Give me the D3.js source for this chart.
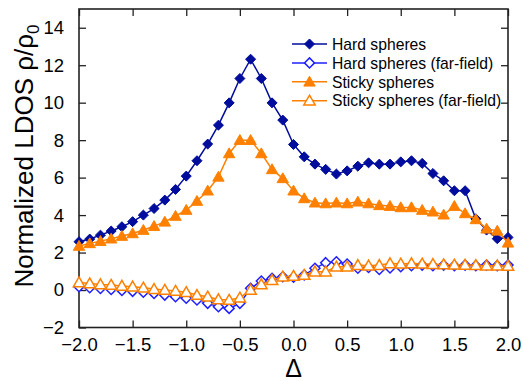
<!DOCTYPE html>
<html>
<head>
<meta charset="utf-8">
<script src="https://cdn.jsdelivr.net/npm/d3@7"></script>
<style>
  body { margin: 0; background: #fff; }
  text { font-family: Arial, "Liberation Sans", sans-serif; }
</style>
</head>
<body>
<script>
// detuning values, step 0.1
const delta = d3.range(41).map(i => +(-2 + i * 0.1).toFixed(1));

const hardSpheres = [
  2.58, 2.72, 2.93, 3.15, 3.38, 3.65, 4.0, 4.35, 4.8, 5.37,
  6.08, 6.9, 7.79, 8.8, 9.99, 11.29, 12.32, 11.29, 9.99, 9.07,
  7.77, 7.11, 6.72, 6.44, 6.19, 6.36, 6.61, 6.79, 6.72, 6.72,
  6.84, 6.9, 6.76, 6.22, 5.83, 5.3, 5.3, 3.8, 3.2, 2.74, 2.81
];
const hardFarField = [
  0.18, 0.12, 0.08, 0.03, -0.02, -0.07, -0.12, -0.18, -0.27, -0.36,
  -0.44, -0.53, -0.71, -0.89, -0.98, -0.71, 0.09, 0.48, 0.62, 0.71,
  0.68, 0.8, 1.16, 1.46, 1.51, 1.39, 1.16, 1.2, 1.1, 1.18,
  1.24, 1.3, 1.33, 1.3, 1.33, 1.3, 1.33, 1.3, 1.33, 1.3, 1.33
];
const stickySpheres = [
  2.35, 2.49, 2.61, 2.74, 2.88, 3.02, 3.2, 3.41, 3.64, 3.95,
  4.27, 4.75, 5.3, 6.04, 7.29, 8.0, 8.0, 7.29, 6.44, 5.96,
  5.3, 4.89, 4.66, 4.62, 4.66, 4.62, 4.71, 4.62, 4.52, 4.48,
  4.41, 4.41, 4.27, 4.18, 4.02, 4.48, 4.09, 3.77, 3.27, 3.16, 2.52
];
const stickyFarField = [
  0.4, 0.35, 0.3, 0.27, 0.22, 0.18, 0.12, 0.05, 0.0, -0.05,
  -0.12, -0.27, -0.36, -0.5, -0.53, -0.41, 0.0, 0.3, 0.53, 0.71,
  0.75, 0.8, 0.98, 0.98, 1.24, 1.24, 1.33, 1.3, 1.33, 1.42,
  1.4, 1.42, 1.4, 1.38, 1.36, 1.35, 1.34, 1.32, 1.3, 1.3, 1.28
];

const xTicks = [-2.0, -1.5, -1.0, -0.5, 0.0, 0.5, 1.0, 1.5, 2.0];
const yTicks = [-2, 0, 2, 4, 6, 8, 10, 12, 14];

const series = [
  { name: "Hard spheres", values: hardSpheres, color: "#000c9c", shape: "diamond", filled: true },
  { name: "Hard spheres (far-field)", values: hardFarField, color: "#1f1fff", shape: "diamond", filled: false },
  { name: "Sticky spheres", values: stickySpheres, color: "#ff8000", shape: "triangle", filled: true },
  { name: "Sticky spheres (far-field)", values: stickyFarField, color: "#ff8000", shape: "triangle", filled: false }
];

const width = 524, height = 381;
const marginLeft = 79, marginRight = 16, marginTop = 9, marginBottom = 53.5;
const plotW = width - marginLeft - marginRight;
const plotH = height - marginTop - marginBottom;

const svg = d3.select("body").append("svg")
  .attr("width", width)
  .attr("height", height);

const x = d3.scaleLinear().domain([-2, 2]).range([marginLeft, marginLeft + plotW]);
const y = d3.scaleLinear().domain([-2, 15]).range([marginTop + plotH, marginTop]);

const tickLen = 7;

// bottom axis, ticks inside
const gx = svg.append("g")
  .attr("transform", "translate(0," + (marginTop + plotH) + ")")
  .call(d3.axisBottom(x).tickValues(xTicks).tickFormat(d3.format(".1f")).tickSizeInner(-tickLen).tickSizeOuter(0).tickPadding(10));
gx.selectAll("text").attr("font-size", 18.5).attr("fill", "#000");

// top axis ticks
svg.append("g")
  .attr("transform", "translate(0," + marginTop + ")")
  .call(d3.axisTop(x).tickValues(xTicks).tickSizeInner(-tickLen).tickSizeOuter(0).tickFormat(""));

// left axis
const gy = svg.append("g")
  .attr("transform", "translate(" + marginLeft + ",0)")
  .call(d3.axisLeft(y).tickValues(yTicks).tickSizeInner(-tickLen).tickSizeOuter(0).tickPadding(15));
gy.selectAll("text").attr("font-size", 18.5).attr("fill", "#000");

// right axis ticks
svg.append("g")
  .attr("transform", "translate(" + (marginLeft + plotW) + ",0)")
  .call(d3.axisRight(y).tickValues(yTicks).tickSizeInner(-tickLen).tickSizeOuter(0).tickFormat(""));

svg.selectAll(".domain").remove();
svg.selectAll(".tick line").attr("stroke", "#222").attr("stroke-width", 1.3);

// frame
svg.append("rect")
  .attr("x", marginLeft)
  .attr("y", marginTop)
  .attr("width", plotW)
  .attr("height", plotH)
  .attr("fill", "none")
  .attr("stroke", "#222")
  .attr("stroke-width", 1.6);

const diamond = d3.symbol().type(d3.symbolDiamond2).size(64);
const triangle = d3.symbol().type(d3.symbolTriangle).size(56);

function markerPath(s) {
  return s.shape === "diamond" ? diamond() : triangle();
}

const line = d3.line()
  .x((d, i) => x(delta[i]))
  .y(d => y(d));

// far-field first (drawn beneath), then main curves
const drawOrder = [series[1], series[3], series[0], series[2]];
drawOrder.forEach(s => {
  const g = svg.append("g");
  g.append("path")
    .datum(s.values)
    .attr("fill", "none")
    .attr("stroke", s.color)
    .attr("stroke-width", 1.5)
    .attr("d", line);
  g.selectAll("path.m")
    .data(s.values)
    .join("path")
    .attr("class", "m")
    .attr("transform", (d, i) => "translate(" + x(delta[i]) + "," + (y(d) + (s.shape === "triangle" ? 1 : 0)) + ")")
    .attr("d", markerPath(s))
    .attr("fill", s.filled ? s.color : "#fff")
    .attr("stroke", s.color)
    .attr("stroke-width", s.filled ? 1 : 1.5);
});

// legend
const legend = svg.append("g").attr("transform", "translate(292,44)");
series.forEach((s, i) => {
  const row = legend.append("g").attr("transform", "translate(0," + (i * 18.9) + ")");
  row.append("line")
    .attr("x1", 0).attr("x2", 35)
    .attr("stroke", s.color).attr("stroke-width", 1.5);
  row.append("path")
    .attr("transform", "translate(17.5," + (s.shape === "triangle" ? 1 : 0) + ")")
    .attr("d", markerPath(s))
    .attr("fill", s.filled ? s.color : "#fff")
    .attr("stroke", s.color)
    .attr("stroke-width", s.filled ? 1 : 1.5);
  row.append("text")
    .attr("x", 40)
    .attr("y", 5.7)
    .attr("font-size", 15.7)
    .attr("fill", "#000")
    .text(s.name);
});

// axis titles
svg.append("text")
  .attr("x", marginLeft + plotW / 2)
  .attr("y", 377)
  .attr("text-anchor", "middle")
  .attr("font-size", 25)
  .attr("font-family", "'Liberation Serif', 'Times New Roman', serif")
  .text("Δ");

const yTitle = svg.append("text")
  .attr("transform", "translate(33,156) rotate(-90)")
  .attr("text-anchor", "middle")
  .attr("font-size", 26)
  .attr("fill", "#000");
yTitle.append("tspan").text("Normalized LDOS ρ/ρ");
yTitle.append("tspan").attr("font-size", 17).attr("dy", 6).text("0");
</script>
</body>
</html>
